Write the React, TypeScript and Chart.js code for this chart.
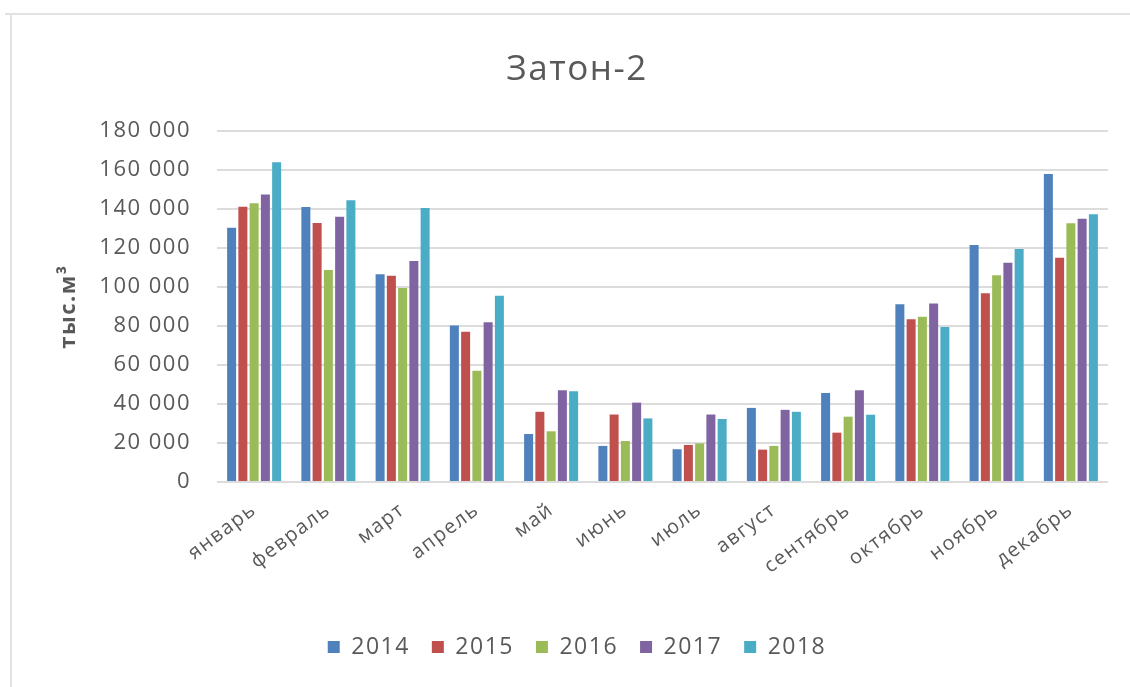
import { useEffect, useRef } from "react";
import { Chart, registerables } from "chart.js";

Chart.register(...registerables);

const months = [
  "январь", "февраль", "март", "апрель", "май", "июнь",
  "июль", "август", "сентябрь", "октябрь", "ноябрь", "декабрь",
];
const years = ["2014", "2015", "2016", "2017", "2018"];

const v2014 = [130400, 141000, 106500, 80200, 24600, 18500, 16800, 38000, 45700, 91100, 121500, 158000];
const v2015 = [141200, 132800, 105800, 77000, 36000, 34600, 19000, 16600, 25300, 83400, 96800, 115000];
const v2016 = [142900, 108700, 99500, 57000, 26000, 21000, 19800, 18500, 33500, 84700, 106000, 132700];
const v2017 = [147500, 136000, 113300, 81900, 47000, 40700, 34600, 37000, 47000, 91600, 112500, 135000];
const v2018 = [164000, 144500, 140500, 95500, 46500, 32600, 32300, 36000, 34500, 79500, 119500, 137300];

const seriesValues = [v2014, v2015, v2016, v2017, v2018];
const seriesColors = ["#4F81BD", "#C0504D", "#9BBB59", "#8064A2", "#4BACC6"];

const yMin = 0;
const yMax = 180000;
const yStep = 20000;

const chartTitle = "Затон-2";
const yTitle = "тыс.м³";

const fmt = (v: number) => String(v).replace(/\B(?=(\d{3})+(?!\d))/g, " ");

const FONT = "'Open Sans', 'Noto Sans', sans-serif";
const TEXT = "#595959";
const SPACING = "1.5px";

const spacingPlugin = {
  id: "letterSpacing",
  beforeLayout(chart: any) {
    chart.ctx.letterSpacing = SPACING;
  },
  beforeDraw(chart: any) {
    chart.ctx.letterSpacing = SPACING;
  },
};

export default function App() {
  const ref = useRef<HTMLCanvasElement | null>(null);

  useEffect(() => {
    document.body.style.margin = "0";
    const canvas = ref.current;
    if (!canvas) return;
    const chart = new Chart(canvas, {
      type: "bar",
      data: {
        labels: months,
        datasets: years.map((y, i) => ({
          label: y,
          data: seriesValues[i],
          backgroundColor: seriesColors[i],
          borderWidth: 0,
          categoryPercentage: 0.758,
          barPercentage: 0.8,
        })),
      },
      plugins: [spacingPlugin],
      options: {
        animation: false,
        responsive: false,
        layout: { padding: { left: 46, right: 22, top: 0, bottom: 18.5 } },
        plugins: {
          title: {
            display: true,
            text: chartTitle,
            color: TEXT,
            font: { family: FONT, size: 35, weight: "normal" },
            padding: { top: 49, bottom: 40 },
          },
          legend: {
            position: "bottom",
            labels: {
              boxWidth: 12,
              boxHeight: 12,
              color: TEXT,
              font: { family: FONT, size: 23 },
              padding: 22,
            },
          },
          tooltip: { enabled: false },
        },
        scales: {
          x: {
            grid: { display: false },
            border: { display: false },
            ticks: {
              color: TEXT,
              font: { family: FONT, size: 20 },
              minRotation: 37,
              maxRotation: 37,
              autoSkip: false,
              padding: 8,
            },
            afterFit: (s: any) => {
              s.height = 131.5;
            },
          },
          y: {
            min: yMin,
            max: yMax,
            grid: { color: "#dcdcdc", lineWidth: 2, drawTicks: false },
            border: { display: false },
            ticks: {
              stepSize: yStep,
              color: TEXT,
              font: { family: FONT, size: 22 },
              padding: 26,
              callback: (v: any) => fmt(Number(v)),
            },
            title: {
              display: true,
              text: yTitle,
              color: TEXT,
              font: { family: FONT, size: 22, weight: "bold" },
              padding: { top: 10, bottom: 0 },
            },
            afterFit: (s: any) => {
              s.width = 171;
            },
          },
        },
      },
    });
    return () => chart.destroy();
  }, []);

  return (
    <div style={{ position: "fixed", left: 0, top: 0, width: 1130, height: 687, background: "#fff", overflow: "hidden" }}>
      <div style={{ position: "absolute", left: 5, top: 13, width: 1125, height: 2, background: "#e2e2e2" }} />
      <div style={{ position: "absolute", left: 10, top: 13, width: 2, height: 674, background: "#e2e2e2" }} />
      <canvas ref={ref} width={1130} height={687} style={{ position: "absolute", left: 0, top: 0, width: 1130, height: 687 }} />
    </div>
  );
}
